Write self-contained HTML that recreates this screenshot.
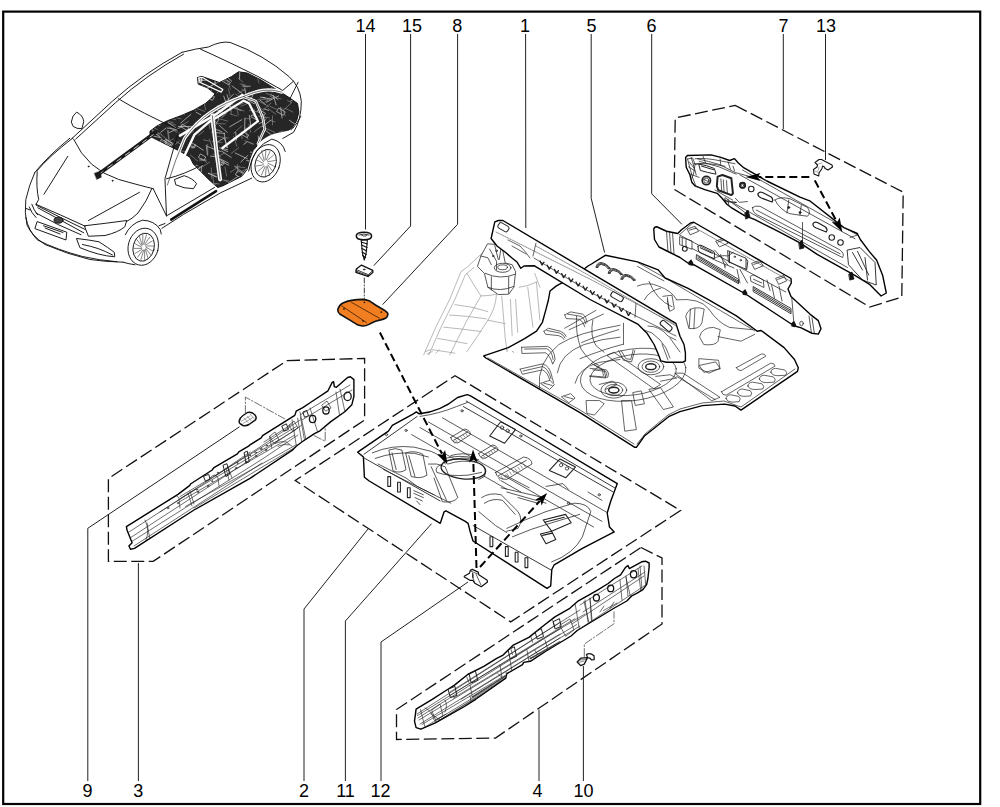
<!DOCTYPE html>
<html><head><meta charset="utf-8"><style>
html,body{margin:0;padding:0;background:#fff;width:1000px;height:807px;overflow:hidden}
svg{position:absolute;left:0;top:0;display:block}
text{font-family:"Liberation Sans",sans-serif;font-size:18px;fill:#000;text-anchor:middle}
.b{fill:none;stroke:#000;stroke-width:1.6}
.l{fill:none;stroke:#222;stroke-width:1}
.d{fill:none;stroke:#111;stroke-width:1.3;stroke-dasharray:13 4.5}
.a{fill:none;stroke:#000;stroke-width:2;stroke-dasharray:8 4}
.p{fill:#fff;stroke:#000;stroke-width:1.4;stroke-linejoin:round}
.t{fill:none;stroke:#333;stroke-width:0.7}
.g{fill:none;stroke:#999;stroke-width:0.6}
</style></head><body>
<svg width="1000" height="807" viewBox="0 0 1000 807">
<rect x="3.2" y="11.6" width="977" height="792.4" fill="none" stroke="#000" stroke-width="2.2"/>
<g id="boxes" class="d">
<polygon points="735.2,105.4 903.2,192.2 901.8,297.2 869.6,307 674.2,189.4 675.2,118"/>
<polygon points="287,360.6 364.6,358.4 364.6,420 153.2,561.4 108.4,561.4 108.4,478.5"/>
<polygon points="455,375.7 680.5,510.5 510.7,621.9 295.2,480.5"/>
<polygon points="641,547.5 662,558 662,624 495.5,738 396.5,739.5 396.5,709.5"/>
</g>
<g id="car" fill="none" stroke="#111" stroke-width="0.95" stroke-linejoin="round" stroke-linecap="round">
<g transform="translate(150,60) scale(0.17354)">
<path vector-effect="non-scaling-stroke" fill="#262626" stroke="#111" d="M275,100 L300,95 L400,130 L470,95 L510,68 L560,75 L640,115 L720,165 L800,215 L850,250 L858,300 L845,350 L820,390 L780,420 L730,445 L680,460 L630,480 L595,520 L575,570 L560,630 L530,670 L480,695 L420,725 L390,735 L340,690 L290,640 L250,600 L230,560 L180,530 L100,490 L40,460 L0,440 L0,410 L40,380 L100,350 L180,320 L250,290 L320,250 L360,215 L375,195 L330,160 L280,140 Z"/>
<defs><clipPath id="cdark"><path d="M275,100 L300,95 L400,130 L470,95 L510,68 L560,75 L640,115 L720,165 L800,215 L850,250 L858,300 L845,350 L820,390 L780,420 L730,445 L680,460 L630,480 L595,520 L575,570 L560,630 L530,670 L480,695 L420,725 L390,735 L340,690 L290,640 L250,600 L230,560 L180,530 L100,490 L40,460 L0,440 L0,410 L40,380 L100,350 L180,320 L250,290 L320,250 L360,215 L375,195 L330,160 L280,140 Z"/></clipPath></defs>
<g clip-path="url(#cdark)" fill="none" stroke="#cfcfcf" stroke-width="0.7" vector-effect="non-scaling-stroke">
<path vector-effect="non-scaling-stroke" d="M278,163 L335,183 M314,99 L352,61 M60,122 L122,122 M815,489 L858,516 M840,92 L866,70 M101,270 L146,227 M162,126 L217,160 M427,422 L443,505 M311,229 L346,208 M494,417 L498,461 M843,140 L890,142 M803,347 L853,383 M753,273 L761,335 M392,631 L405,698 M52,537 L102,541 M575,75 L639,83 M425,208 L438,247 M336,653 L383,672 M239,153 L280,167 M357,304 L390,316 M152,218 L206,161 M157,252 L196,222 M487,708 L558,748 M819,523 L869,530 M414,332 L441,305 M140,291 L197,313 M461,705 L498,719 M324,491 L331,547 M99,392 L144,399 M124,570 L137,639 M444,200 L463,257 M23,419 L58,443 M315,174 L378,131 M284,212 L353,175 M636,214 L663,217 M24,250 L43,312 M296,610 L296,659 M190,214 L234,179 M847,475 L906,508 M688,118 L746,166 M645,385 L698,346 M75,703 L147,715 M73,168 L117,123 M400,506 L447,517 M472,149 L530,192 M88,570 L154,521 M710,204 L727,259 M657,282 L684,290 M636,670 L715,695 M112,163 L171,210 M523,588 L564,550 M624,438 L630,498 M415,588 L454,606 M664,405 L732,455 M381,477 L428,449 M459,385 L529,344 M810,237 L840,221 M105,361 L148,390 M183,266 L210,288 M616,509 L642,487 M402,568 L452,594 M851,626 L929,581 M347,346 L365,416 M17,437 L65,449 M445,261 L524,291 M197,656 L222,667 M670,244 L741,207 M581,703 L666,706 M491,536 L561,569 M158,669 L158,735 M689,117 L747,60 M390,291 L430,305 M111,418 L191,381 M225,183 L233,242 M177,363 L236,313 M855,85 L905,120 M163,383 L241,384 M372,397 L414,413 M185,216 L248,183 M547,335 L545,415 M12,485 L18,513 M572,319 L582,388 M39,186 L47,227 M827,721 L851,806 M266,302 L294,316 M240,506 L261,492 M227,121 L277,132 M258,488 L308,520 M645,507 L715,527 M425,253 L481,197 M767,487 L834,455 M489,613 L539,651 M768,524 L788,505 M548,712 L606,731 M540,486 L560,471 M686,569 L710,585 M634,231 L665,256 M651,217 L700,225 M412,525 L468,561 M67,160 L75,230 M534,151 L577,151 M578,531 L636,536 M400,377 L445,417 M268,118 L323,117 M705,718 L752,737 M788,693 L817,711 M451,708 L506,672 M240,137 L264,217 M418,77 L471,122 M349,554 L394,560 M723,61 L724,94 M797,545 L805,573 M336,652 L383,675 M237,93 L301,116 M546,161 L555,206 M665,594 L739,619 M543,681 L567,667 M630,367 L667,344 M42,690 L80,655 M242,234 L251,274 M416,515 L448,528 M179,676 L232,687 M286,576 L324,577 M78,293 L122,314 M696,197 L738,228 M356,416 L430,423 M428,451 L447,505 M541,647 L601,589 M331,499 L406,527 M751,75 L816,110 M692,718 L742,717 M797,621 L836,636 M94,165 L149,211 M557,580 L632,581 M1,145 L39,170 M110,231 L141,239 M61,417 L92,393 M517,67 L516,110 M272,631 L305,607 M212,713 L225,749"/>
<rect vector-effect="non-scaling-stroke" x="714" y="488" width="22" height="16" transform="rotate(30 714 488)"/><rect vector-effect="non-scaling-stroke" x="368" y="322" width="35" height="25" transform="rotate(30 368 322)"/><rect vector-effect="non-scaling-stroke" x="589" y="317" width="32" height="12" transform="rotate(30 589 317)"/><rect vector-effect="non-scaling-stroke" x="269" y="607" width="22" height="21" transform="rotate(30 269 607)"/><rect vector-effect="non-scaling-stroke" x="200" y="560" width="26" height="20" transform="rotate(30 200 560)"/><rect vector-effect="non-scaling-stroke" x="249" y="634" width="23" height="23" transform="rotate(30 249 634)"/><rect vector-effect="non-scaling-stroke" x="508" y="638" width="35" height="28" transform="rotate(30 508 638)"/><rect vector-effect="non-scaling-stroke" x="92" y="457" width="48" height="13" transform="rotate(30 92 457)"/><rect vector-effect="non-scaling-stroke" x="68" y="458" width="32" height="25" transform="rotate(30 68 458)"/><rect vector-effect="non-scaling-stroke" x="188" y="370" width="41" height="18" transform="rotate(30 188 370)"/><rect vector-effect="non-scaling-stroke" x="135" y="148" width="25" height="15" transform="rotate(30 135 148)"/><rect vector-effect="non-scaling-stroke" x="539" y="415" width="34" height="18" transform="rotate(30 539 415)"/><rect vector-effect="non-scaling-stroke" x="594" y="603" width="50" height="20" transform="rotate(30 594 603)"/><rect vector-effect="non-scaling-stroke" x="132" y="147" width="22" height="20" transform="rotate(30 132 147)"/><rect vector-effect="non-scaling-stroke" x="714" y="437" width="43" height="19" transform="rotate(30 714 437)"/><rect vector-effect="non-scaling-stroke" x="627" y="285" width="44" height="14" transform="rotate(30 627 285)"/><rect vector-effect="non-scaling-stroke" x="579" y="217" width="36" height="20" transform="rotate(30 579 217)"/><rect vector-effect="non-scaling-stroke" x="292" y="542" width="34" height="23" transform="rotate(30 292 542)"/><rect vector-effect="non-scaling-stroke" x="236" y="475" width="32" height="19" transform="rotate(30 236 475)"/><rect vector-effect="non-scaling-stroke" x="398" y="582" width="22" height="16" transform="rotate(30 398 582)"/><rect vector-effect="non-scaling-stroke" x="97" y="463" width="31" height="18" transform="rotate(30 97 463)"/><rect vector-effect="non-scaling-stroke" x="765" y="126" width="42" height="24" transform="rotate(30 765 126)"/><rect vector-effect="non-scaling-stroke" x="743" y="278" width="42" height="23" transform="rotate(30 743 278)"/><rect vector-effect="non-scaling-stroke" x="654" y="668" width="22" height="27" transform="rotate(30 654 668)"/><rect vector-effect="non-scaling-stroke" x="130" y="529" width="34" height="26" transform="rotate(30 130 529)"/><rect vector-effect="non-scaling-stroke" x="642" y="648" width="44" height="14" transform="rotate(30 642 648)"/><rect vector-effect="non-scaling-stroke" x="422" y="105" width="48" height="17" transform="rotate(30 422 105)"/><rect vector-effect="non-scaling-stroke" x="569" y="191" width="27" height="28" transform="rotate(30 569 191)"/><rect vector-effect="non-scaling-stroke" x="396" y="570" width="38" height="21" transform="rotate(30 396 570)"/><rect vector-effect="non-scaling-stroke" x="344" y="196" width="32" height="24" transform="rotate(30 344 196)"/>
<path vector-effect="non-scaling-stroke" stroke="#999" stroke-width="0.6" d="M389,441 L451,450 M163,607 L221,620 M81,266 L136,299 M546,465 L595,483 M529,167 L548,181 M31,658 L60,680 M508,193 L546,169 M570,371 L580,417 M801,117 L809,147 M249,108 L304,137 M332,711 L393,738 M45,315 L93,322 M171,519 L183,553 M829,575 L881,596 M9,376 L57,378 M385,190 L416,166 M340,733 L402,762 M691,267 L727,283 M735,496 L761,506 M380,67 L381,106 M64,202 L91,174 M535,147 L561,155 M332,487 L333,547 M215,189 L248,169 M415,113 L435,121 M828,222 L889,227 M513,260 L575,230 M109,386 L168,414 M175,71 L182,103 M40,252 L59,233 M387,285 L443,249 M408,303 L408,324 M547,388 L564,456 M65,431 L109,467 M605,599 L618,652 M775,652 L795,660 M430,70 L450,72 M62,122 L110,164 M626,324 L687,333 M72,570 L94,581 M19,711 L63,736 M792,234 L816,246 M526,413 L531,454 M767,282 L779,322 M693,682 L732,652 M272,153 L337,160 M35,104 L36,129 M405,689 L451,695 M578,547 L639,553 M239,473 L244,508 M681,73 L704,55 M662,241 L723,208 M99,134 L99,188 M171,383 L221,354 M460,85 L488,61 M600,414 L647,378 M779,119 L822,120 M538,679 L590,689 M432,617 L442,669 M176,551 L236,577 M843,725 L858,778 M13,403 L55,426 M661,391 L719,417 M369,84 L375,149 M405,740 L447,755 M816,118 L855,90 M715,442 L766,407 M482,272 L541,294 M524,267 L566,248 M493,197 L536,222 M24,719 L92,732 M105,123 L138,90 M356,711 L399,714 M109,355 L134,360 M361,80 L380,136 M20,192 L43,167 M622,226 L679,227 M106,407 L110,462 M756,76 L804,91 M463,647 L515,612 M526,643 L572,620 M299,183 L299,213 M669,192 L699,204 M625,236 L684,268 M467,539 L510,506 M15,197 L16,265 M99,404 L109,457 M163,108 L217,127 M527,675 L557,676 M175,631 L175,656 M53,707 L78,707 M336,350 L346,399 M11,537 L43,508 M636,336 L657,322 M681,280 L726,313 M740,488 L769,494 M503,292 L509,317 M639,169 L675,170 M463,312 L502,323 M621,108 L628,132 M764,734 L825,761 M573,290 L619,299 M335,740 L385,711 M843,76 L870,95 M345,94 L363,84 M222,247 L229,292 M832,446 L882,479 M66,466 L125,497 M332,720 L381,729 M369,396 L378,446 M314,254 L320,288 M616,261 L656,290 M544,338 L580,338 M342,456 L364,517 M369,385 L387,367 M697,678 L752,654 M519,138 L549,143 M45,419 L69,431 M359,469 L415,476 M701,153 L704,185 M98,667 L111,716 M624,535 L672,505 M163,229 L183,220 M52,244 L74,244 M191,249 L213,267 M202,727 L232,732 M296,566 L329,592 M707,630 L753,596 M336,162 L395,126 M280,433 L311,410 M83,655 L119,677 M488,614 L547,620 M65,205 L102,230 M657,283 L697,248 M281,676 L286,725 M790,699 L802,758 M262,276 L315,296 M444,117 L463,168 M503,601 L506,648 M719,443 L750,413 M735,612 L774,585 M488,717 L535,717 M678,117 L701,128 M270,78 L313,35 M363,544 L407,557 M658,328 L660,365 M118,392 L172,429 M353,622 L355,682 M717,664 L765,692 M690,347 L720,357 M140,492 L170,467 M455,246 L504,274 M261,166 L313,141 M15,387 L42,400 M309,460 L340,467 M159,251 L219,222 M539,701 L581,714 M346,710 L373,725 M43,704 L99,726 M666,596 L692,613 M9,381 L16,413 M362,655 L399,656 M223,651 L282,614 M229,424 L253,408 M176,683 L197,672 M232,547 L275,582 M71,569 L82,596 M166,524 L213,527 M452,167 L462,206 M478,738 L527,763 M91,328 L148,344 M105,363 L147,374 M252,137 L301,176 M619,673 L648,648 M464,263 L468,310 M75,188 L110,198 M813,443 L820,481 M88,483 L135,454 M155,334 L179,339 M195,167 L246,195 M294,620 L344,589 M706,322 L706,374 M625,477 L624,536 M568,474 L595,486 M264,360 L300,362 M252,130 L288,99 M257,219 L282,203 M803,739 L821,727 M567,588 L604,556 M600,284 L616,346 M389,556 L431,536 M482,441 L500,496 M771,288 L816,245 M248,670 L282,651 M143,466 L178,486 M673,692 L715,658 M634,320 L672,335 M28,419 L53,434 M447,239 L467,295 M621,596 L667,613 M404,340 L447,352 M855,630 L880,638 M99,698 L105,740 M778,278 L824,300 M373,316 L375,351 M510,107 L536,127 M751,721 L796,733 M206,268 L266,290 M859,557 L861,598 M693,211 L756,224 M85,599 L123,629 M390,261 L400,288 M379,366 L434,368 M198,268 L232,280 M429,695 L457,705 M739,531 L796,555 M305,381 L351,352 M481,423 L529,380 M43,132 L43,166 M362,658 L368,724"/>
<path vector-effect="non-scaling-stroke" stroke="#fff" stroke-width="1.2" d="M280,105 L300,100 L420,170 L410,185 L290,130 Z"/>
<ellipse vector-effect="non-scaling-stroke" stroke="#fff" cx="287" cy="115" rx="12" ry="16"/>
</g>

</g>
<path d="M290,98.6 L298.1,82.3 M281.8,138.1 Q294,130 300.9,116.3" fill="none" stroke="#111" stroke-width="0.9"/>
<g id="carwhite" fill="none" stroke-linecap="round" stroke-linejoin="round">
<path d="M167.4,185 Q175,160 184.7,138.1 Q196,122 210.7,112.1 Q226,102 243.7,96.4 Q253,92 262.8,90.4 Q272,89 281.9,92.1" stroke="#fff" stroke-width="3.2"/>
<path d="M180,135.7 L202.3,122.3 L215.7,114.5 L242.4,95" stroke="#fff" stroke-width="2.6"/>
<path d="M212.3,115.6 L216.8,154.7 L220.1,179.2" stroke="#fff" stroke-width="4"/>
<path d="M184.5,155.8 L194.5,134.6 L210.1,121.2 L217.9,116.8" stroke="#fff" stroke-width="2.4"/>
<path d="M217.9,116.8 L243.5,100.6 L249.1,103.4 L258,121.2 L222.4,148" stroke="#fff" stroke-width="2.2"/>
<path d="M243.5,96.7 L255.8,101.1 L262.5,116.8 L264.7,129 L258,143.5" stroke="#fff" stroke-width="2.6"/>
<path d="M277.7,91.1 L294,78.2" stroke="#fff" stroke-width="1.5"/>
<g stroke="#111" stroke-width="0.6">
<path d="M167.4,185 Q175,160 184.7,138.1 Q196,122 210.7,112.1 Q226,102 243.7,96.4 Q253,92 262.8,90.4 Q272,89 281.9,92.1"/>
<path d="M212.3,115.6 L216.8,154.7 L220.1,179.2"/>
<path d="M243.5,96.7 L255.8,101.1 L262.5,116.8 L264.7,129 L258,143.5"/>
</g>
<path d="M246.9,179.2 L258,143.5 Q268,134 280,132.4 L300,128 L300,180 Z" fill="#fff" stroke="none"/>
</g>
<g transform="translate(10,30) scale(0.30992)">
<path vector-effect="non-scaling-stroke" d="M200,350 L330,230 Q430,140 555,72 M212,352 L340,235 Q440,145 560,78"/>
<path vector-effect="non-scaling-stroke" d="M555,72 Q600,60 640,55 Q680,35 710,40 Q820,80 900,150 Q935,180 940,230 Q940,290 915,330 L880,350"/>
<path vector-effect="non-scaling-stroke" d="M615,62 Q700,100 800,150 L880,195 L915,165"/>
<ellipse vector-effect="non-scaling-stroke" cx="825" cy="430" rx="45" ry="62" transform="rotate(20 825 430)"/>
<ellipse vector-effect="non-scaling-stroke" cx="825" cy="430" rx="33" ry="46" transform="rotate(20 825 430)"/>
<path vector-effect="non-scaling-stroke" d="M770,455 Q785,375 845,352 Q880,360 888,392"/>
<path vector-effect="non-scaling-stroke" d="M780,478 L680,525 L560,595 L490,640"/>
<path d="M520,612 L665,520" stroke="#111" stroke-width="8"/>
<path d="M282,468 L470,330" stroke="#1a1a1a" stroke-width="12"/>
<path d="M290,463 L300,456 M315,445 L330,434 M345,423 L358,414 M372,404 L386,394 M400,383 L414,373 M428,363 L440,354 M452,345 L462,338" stroke="#ddd" stroke-width="3"/>
<path d="M272,462 L292,455 L295,475 L280,482 Z" fill="#1a1a1a"/>
<path vector-effect="non-scaling-stroke" d="M205,352 Q250,450 350,482 Q420,502 462,512"/>
<path vector-effect="non-scaling-stroke" d="M350,222 Q420,265 545,322"/>
<path vector-effect="non-scaling-stroke" d="M545,322 L500,480 L505,600 M462,512 L505,600"/>
<path vector-effect="non-scaling-stroke" d="M505,480 Q560,468 625,432 M508,598 L660,508"/>
<path vector-effect="non-scaling-stroke" d="M532,482 L562,470 Q592,480 602,496 L592,512 Q560,512 536,500 Z"/>
<path vector-effect="non-scaling-stroke" d="M198,296 Q200,275 215,265 Q235,275 238,295 L232,318 Q215,320 205,312 Z"/>
<path vector-effect="non-scaling-stroke" d="M833,430 L855,441 M832,435 L849,458 M830,439 L838,470 M827,441 L824,474 M823,441 L811,469 M820,439 L800,456 M818,435 L794,439 M817,430 L795,419 M818,425 L801,402 M820,421 L812,390 M823,419 L826,386 M827,419 L839,391 M830,421 L850,404 M832,425 L856,421" stroke="#333" stroke-width="0.6"/>
</g>
<g transform="translate(15,150) scale(0.15)">
<path vector-effect="non-scaling-stroke" d="M385,-80 Q230,40 145,140 M365,-78 Q215,45 132,150"/>
<path vector-effect="non-scaling-stroke" d="M132,150 Q95,230 72,330 Q62,420 80,500 Q110,570 200,630 Q350,695 500,730 Q600,745 720,748"/>
<path vector-effect="non-scaling-stroke" d="M148,145 Q140,250 158,330 L140,362 M352,42 L193,295 M830,282 L490,470"/>
<path vector-effect="non-scaling-stroke" d="M140,362 Q300,430 468,508 M912,258 Q880,340 820,420 Q780,460 742,478"/>
<path vector-effect="non-scaling-stroke" d="M465,505 Q600,490 745,470 L732,512 Q690,548 600,570 L492,575 Z"/>
<path vector-effect="non-scaling-stroke" d="M142,368 Q300,450 468,530 M152,385 Q300,465 458,552 M140,420 Q280,500 440,565"/>
<ellipse vector-effect="non-scaling-stroke" cx="290" cy="468" rx="30" ry="20" fill="#444"/>
<path vector-effect="non-scaling-stroke" d="M95,380 Q110,420 140,450 M112,362 Q125,400 150,432 M100,400 L75,390"/>
<path vector-effect="non-scaling-stroke" d="M150,478 L345,548 L340,600 L135,525 Z M190,505 L320,550 M200,520 L300,560"/>
<path vector-effect="non-scaling-stroke" d="M412,590 Q500,600 560,612 Q620,650 662,682 L665,712 Q560,705 435,652 Z M450,630 Q560,650 650,700"/>
<path vector-effect="non-scaling-stroke" d="M72,450 Q90,540 150,600 Q280,665 450,710 Q560,735 680,745"/>
<ellipse vector-effect="non-scaling-stroke" cx="855" cy="645" rx="100" ry="125" transform="rotate(15 855 645)"/>
<ellipse vector-effect="non-scaling-stroke" cx="858" cy="648" rx="70" ry="95" transform="rotate(15 858 648)"/>
<path vector-effect="non-scaling-stroke" d="M873,648 L920,674 M872,656 L908,704 M869,662 L888,725 M864,667 L864,735 M858,668 L839,731 M852,667 L817,715 M847,662 L801,689 M844,656 L794,656 M843,648 L796,622 M844,640 L808,592 M847,634 L828,571 M852,629 L852,561 M858,628 L877,565 M864,629 L899,581 M869,634 L915,607 M872,640 L922,640" stroke="#333" stroke-width="0.6"/>
<path vector-effect="non-scaling-stroke" d="M735,565 Q770,490 850,468 Q930,470 968,530 L975,560 M960,505 L1000,490 M720,748 Q760,760 800,765"/>
<circle vector-effect="non-scaling-stroke" cx="490" cy="110" r="3"/><circle vector-effect="non-scaling-stroke" cx="650" cy="205" r="3"/>
</g>
</g>
<g id="part1" stroke-linejoin="round" stroke-linecap="round">
<!-- phantom wheel arch -->
<g fill="none" stroke="#8a8a8a" stroke-width="0.6" stroke-linejoin="round"><g transform="translate(415,230) scale(0.17348)">
<path vector-effect="non-scaling-stroke" d="M50,720 L120,560 L200,400 L265,240 L300,215 L380,140 L395,128 M80,720 L150,560 L230,400 L290,258 L340,215"/>
<path vector-effect="non-scaling-stroke" d="M230,430 Q330,440 420,470 M200,490 Q300,495 410,512 M165,560 Q270,570 380,585 M130,625 Q220,640 300,655 M100,690 Q170,700 230,710"/>
<path vector-effect="non-scaling-stroke" d="M300,250 Q340,320 380,380 Q430,380 470,370 M470,370 Q465,450 420,520 Q370,600 300,700 M380,380 Q340,450 300,520 Q250,620 200,720 M420,520 L520,540"/>
<path vector-effect="non-scaling-stroke" d="M500,380 L520,620 L530,700 M550,400 L560,610 M580,400 L592,590 M650,330 L680,560 M700,300 L720,520 M690,250 L720,330 M600,330 L650,320 L700,300"/>
<path vector-effect="non-scaling-stroke" d="M60,700 L90,690 M70,715 L100,700 M120,710 L140,690"/>
</g></g>
<defs><clipPath id="cfloor"><path d="M483.7,355.9 L508.2,347.6 L524.6,338.6 L536.5,331.2 L542.4,322.3 L546.1,308.9 L548.4,300 L550,291 L556.4,285.9 L575,276 L588,266 L591.5,264 L605.3,255.3 L637.5,261.9 L658.2,269.9 L665.1,278 L688.1,288.3 L708.8,299.8 L736.4,315.9 L757.3,331.2 L761.1,330.5 L784.1,347.6 L794.5,359.5 L798.3,367.7 L797.5,371.4 L741,410.1 L735,406 L724.6,404.1 L702.3,405.6 L680,411.6 L668.6,416.7 L644.4,436 L636.4,447.3 L634.8,447.3 L580,412.6 L485.9,358 Z"/></clipPath></defs>
<!-- floor pan -->
<path class="p" d="M483.7,355.9 L508.2,347.6 L524.6,338.6 L536.5,331.2 L542.4,322.3 L546.1,308.9 L548.4,300 L550,291 L556.4,285.9 L575,276 L588,266 L591.5,264 L605.3,255.3 L637.5,261.9 L658.2,269.9 L665.1,278 L688.1,288.3 L708.8,299.8 L736.4,315.9 L757.3,331.2 L761.1,330.5 L784.1,347.6 L794.5,359.5 L798.3,367.7 L797.5,371.4 L741,410.1 L735,406 L724.6,404.1 L702.3,405.6 L680,411.6 L668.6,416.7 L644.4,436 L636.4,447.3 L634.8,447.3 L580,412.6 L485.9,358 Z"/>
<g fill="none" stroke="#222" stroke-width="0.7" stroke-linejoin="round" clip-path="url(#cfloor)">
<path d="M488,358 L580,410 L634,444 M637,444 L645,434 L668,415 L680,409 L702,403 L724,401 L741,407 L795,369"/>
<g transform="translate(480,300) scale(0.14862)">
<path vector-effect="non-scaling-stroke" d="M280,318 L455,312 Q500,330 505,400 L490,430 M280,318 L282,360 L440,355 Q470,370 488,428 M300,330 L450,328 Q485,345 492,400"/>
<path vector-effect="non-scaling-stroke" d="M270,465 L420,430 Q470,440 485,520 L495,555 M270,465 L285,500 L420,470 Q455,485 470,540 M290,478 L420,448 Q460,460 478,530"/>
<path vector-effect="non-scaling-stroke" d="M430,210 L460,190 L540,210 Q575,225 580,245 M430,210 L440,230 L530,240 Q560,250 565,265 M450,205 L535,222 Q565,235 572,255"/>
<path vector-effect="non-scaling-stroke" d="M570,100 L610,80 L690,95 Q715,110 720,150 M570,100 L580,125 L670,130 Q700,150 705,180 M590,95 L680,110 Q705,125 712,160"/>
<path vector-effect="non-scaling-stroke" d="M410,560 L470,540 L500,570 L470,600 Z M430,560 L485,575"/>
<path vector-effect="non-scaling-stroke" d="M550,650 L610,630 L640,660 L600,690 Z M570,650 L625,665"/>
<path vector-effect="non-scaling-stroke" d="M740,460 L850,470 Q875,490 860,520 L740,510 M760,470 L845,480 Q860,495 850,510"/>
<path vector-effect="non-scaling-stroke" d="M400,600 Q380,420 530,300 Q650,220 942,170 M520,490 Q540,360 700,300 Q820,260 942,250 M640,560 Q660,460 800,420 L942,400"/>
<path vector-effect="non-scaling-stroke" d="M570,190 L780,70 M600,200 L830,95 M650,110 Q640,220 680,330 Q740,420 800,440"/>
<path vector-effect="non-scaling-stroke" d="M180,330 L182,345 M220,345 L225,352" stroke-width="0.5"/>
</g>
<g transform="translate(580,320) scale(0.1611)">
<path vector-effect="non-scaling-stroke" d="M170,220 L210,200 L500,400 L460,425 Z"/>
<ellipse vector-effect="non-scaling-stroke" cx="440" cy="290" rx="32" ry="18" stroke-width="1.4"/><ellipse vector-effect="non-scaling-stroke" cx="440" cy="290" rx="55" ry="35"/><ellipse vector-effect="non-scaling-stroke" cx="440" cy="290" rx="80" ry="50"/>
<ellipse vector-effect="non-scaling-stroke" cx="210" cy="435" rx="32" ry="18" stroke-width="1.4"/><ellipse vector-effect="non-scaling-stroke" cx="210" cy="435" rx="55" ry="35"/><ellipse vector-effect="non-scaling-stroke" cx="210" cy="435" rx="80" ry="50"/>
<ellipse vector-effect="non-scaling-stroke" cx="330" cy="340" rx="330" ry="160" transform="rotate(-8 330 340)"/>
<ellipse vector-effect="non-scaling-stroke" cx="330" cy="340" rx="270" ry="125" transform="rotate(-8 330 340)"/>
<path vector-effect="non-scaling-stroke" d="M240,190 L270,250 L320,260 L340,190 M255,190 L285,240 L315,245 L330,185"/>
<path vector-effect="non-scaling-stroke" d="M70,270 L150,310 L160,360 L60,350 M90,280 L140,310 L145,345"/>
<path vector-effect="non-scaling-stroke" d="M120,400 L200,380 L230,400 L160,430 M470,350 L560,340 L600,360 L500,380"/>
<path vector-effect="non-scaling-stroke" d="M330,450 L380,440 L400,520 L345,530 Z M40,500 L120,500 L150,520 L90,590 L45,580 Z M260,500 L320,500 L350,680 L280,690 Z M430,430 L500,420 L580,540 L520,555 Z M590,330 L640,330 L869,480 L820,500 Z M600,350 L840,495"/>
<path vector-effect="non-scaling-stroke" d="M740,240 L860,250 L869,300 L800,330 L740,300 Z"/>
<path vector-effect="non-scaling-stroke" d="M10,140 Q100,100 240,60 M0,240 Q150,180 270,150 M270,20 L270,150 M80,0 Q60,100 100,160 L150,200"/>
</g>
<g transform="translate(580,240) scale(0.23)">
<path vector-effect="non-scaling-stroke" d="M 70,118 Q 72,99 91,98 Q 118,102 131,123 M 77,119 Q 80,107 92,106 Q 113,109 123,125 M 70,118 L 77,119 M 131,123 L 123,125 M 73,119 Q 76,103 92,102 Q 116,105 127,123 M 123,144 Q 125,125 144,124 Q 171,128 184,149 M 130,145 Q 133,133 145,132 Q 166,135 177,151 M 123,144 L 130,145 M 184,149 L 177,151 M 127,145 Q 129,129 145,128 Q 169,131 180,150 M 178,170 Q 180,150 200,150 Q 227,153 240,174 M 186,170 Q 189,158 201,157 Q 222,160 232,176 M 178,170 L 186,170 M 240,174 L 232,176 M 182,170 Q 184,154 200,153 Q 224,157 236,175" stroke-width="0.9"/>
<path vector-effect="non-scaling-stroke" d="M255,100 L370,165 L760,395 M250,115 L365,178"/>
<path vector-effect="non-scaling-stroke" d="M680,555 L790,495 Q805,495 808,505 L700,568 Q685,568 680,555 Z M615,660 L830,535 Q845,535 848,548 L635,675 Q618,675 615,660 Z"/>
<path vector-effect="non-scaling-stroke" d="M830,575 Q830,560 850,558 L890,565 Q905,575 895,588 L860,590 Q835,590 830,575 Z M780,605 Q780,590 800,588 L840,595 Q855,605 845,618 L810,620 Q785,620 780,605 Z M730,635 Q730,620 750,618 L790,625 Q805,635 795,648 L760,650 Q735,650 730,635 Z M685,665 Q685,650 705,648 L740,655 Q752,665 742,678 L710,680 Q690,680 685,665 Z M635,690 Q635,675 655,673 L690,680 Q702,690 692,703 L660,705 Q640,705 635,690 Z"/>
<path vector-effect="non-scaling-stroke" d="M460,330 Q470,290 520,295 L540,300 L530,360 Q520,390 475,385 Z M480,300 L475,380 M500,298 L495,385"/>
<path vector-effect="non-scaling-stroke" d="M520,420 Q530,380 580,380 L610,390 L600,440 Q590,460 540,455 Z"/>
<path vector-effect="non-scaling-stroke" d="M360,245 L400,240 L410,300 L390,310 L380,260 M380,250 L385,300"/>
<path vector-effect="non-scaling-stroke" d="M250,200 Q300,180 340,200 Q400,220 420,260 M280,260 Q300,220 350,210 M300,180 Q330,260 400,290 M420,260 Q520,250 560,300 Q600,360 650,380 L750,390 M600,420 Q650,430 700,440 L760,410"/>
<path vector-effect="non-scaling-stroke" d="M520,545 L590,530 L610,560 L540,575 Z"/>
</g>
</g>
<!-- crossmember -->
<g transform="translate(415,230) scale(0.17348)" fill="none" stroke="#222" stroke-width="0.75" stroke-linejoin="round">
<path vector-effect="non-scaling-stroke" fill="#fff" d="M420,80 L500,85 L510,140 L520,190 L560,200 L580,240 L570,330 L540,370 L480,372 L420,330 L400,250 L360,210 L380,150 Z"/>
<ellipse vector-effect="non-scaling-stroke" cx="505" cy="218" rx="48" ry="26"/><ellipse vector-effect="non-scaling-stroke" cx="505" cy="215" rx="28" ry="14"/>
<path vector-effect="non-scaling-stroke" d="M405,250 Q490,290 578,255 M420,330 Q490,360 570,325 M430,110 L470,180 L470,230 M460,90 L480,170 M440,270 L440,345 M540,270 L540,365 M380,150 L420,160 L440,200 M500,85 L485,170"/>
<circle vector-effect="non-scaling-stroke" cx="470" cy="120" r="5"/><circle vector-effect="non-scaling-stroke" cx="450" cy="150" r="4"/>
</g>
<path class="p" d="M494.8,221.8 L498.5,220.5 L502.9,220.5 L590,272.3 L675.9,323.4 L680,336.2 L684,344.5 L685.4,352.7 L685.4,360.9 L682.7,362.2 L666.3,362.2 L660.9,360.9 L658.2,354.1 L654.1,344.5 L647.3,333.6 L637.7,324.1 L590,299.5 L534.5,265.8 L524,266 L520.8,268.3 L517,262 L512,258 L505,252 L497,246 L491.1,238.5 Z"/>
<g fill="none" stroke="#222" stroke-width="0.7">
<path d="M496,232 L590,279.1 L674.5,324 M536,246 L590,276 L676,326" stroke="#555" stroke-dasharray="1 1"/>
<path d="M536,243 L533,256 M636,303.6 L635,317.3 M534,258 L590,292 L636,316 L676,336"/>
<path d="M540.0,261.0 L542.0,265.0 L544.0,262.2 M547.2,265.2 L549.2,269.2 L551.2,266.4 M554.4,269.4 L556.4,273.4 L558.4,270.6 M561.6,273.6 L563.6,277.6 L565.6,274.8 M568.8,277.8 L570.8,281.8 L572.8,279.0 M576.0,282.0 L578.0,286.0 L580.0,283.2 M583.2,286.2 L585.2,290.2 L587.2,287.4 M590.4,290.5 L592.4,294.5 L594.4,291.7 M597.6,294.7 L599.6,298.7 L601.6,295.9 M604.8,298.9 L606.8,302.9 L608.8,300.1 M612.0,303.1 L614.0,307.1 L616.0,304.3 M619.2,307.3 L621.2,311.3 L623.2,308.5 M626.4,311.5 L628.4,315.5 L630.4,312.7" stroke-width="1.35"/>
<rect x="610.4" y="294" width="13" height="5.5" rx="2" transform="rotate(30 617 297)" stroke-width="1.1"/>
<rect x="659.5" y="323" width="13" height="5.5" rx="2" transform="rotate(40 666 326)" stroke-width="1.1"/>
<rect x="498" y="224" width="11" height="6" rx="2" transform="rotate(30 503 227)" stroke-width="1"/>
<path d="M644,330 L652,333 L660,340 L666,348 L670,358 M648,326 Q660,326 668,336 L676,340 M670,338 L680,352 M662,344 L668,360"/>
<path d="M508,240 L520,246 Q526,252 530,258 M512,246 L526,254"/>
</g>
</g>
<g id="part7" stroke-linejoin="round" stroke-linecap="round">
<path class="p" d="M685.6,157.4 L687.4,155.5 L711,154.9 L720.9,157.4 L729.6,160.5 L734.5,158.6 L738.3,163 L743.2,167.3 L751.9,172.3 L766.8,181 L800,197.1 L809.7,200.8 L843.9,227.6 L857.3,233.5 L860.3,239.5 L869.2,251.4 L876.7,260.3 L882.6,275.2 L886.3,293 L881.1,296 L869.2,284.1 L854.4,275.2 L817.2,254.4 L800,242.9 L779.2,231.8 L766.8,225.6 L754.4,219.4 L744.5,215.7 L732.1,208.2 L727.1,204.5 L722.1,198.3 L717.2,193.3 L704.8,189.6 L694.9,185.9 L691.8,182.2 L689.9,174.8 L686.2,167.3 Z"/>
<defs><clipPath id="cp7"><path d="M685.6,157.4 L687.4,155.5 L711,154.9 L720.9,157.4 L729.6,160.5 L734.5,158.6 L738.3,163 L743.2,167.3 L751.9,172.3 L766.8,181 L800,197.1 L809.7,200.8 L843.9,227.6 L857.3,233.5 L860.3,239.5 L869.2,251.4 L876.7,260.3 L882.6,275.2 L886.3,293 L881.1,296 L869.2,284.1 L854.4,275.2 L817.2,254.4 L800,242.9 L779.2,231.8 L766.8,225.6 L754.4,219.4 L744.5,215.7 L732.1,208.2 L727.1,204.5 L722.1,198.3 L717.2,193.3 L704.8,189.6 L694.9,185.9 L691.8,182.2 L689.9,174.8 L686.2,167.3 Z"/></clipPath></defs>
<g clip-path="url(#cp7)"><g transform="translate(650,140) scale(0.25)" fill="none" stroke="#222" stroke-width="0.75">
<path vector-effect="non-scaling-stroke" d="M150,75 L170,150 L190,200 M165,70 L185,140 M180,75 Q220,70 290,85 L340,95 M175,95 Q230,90 300,105"/>
<circle vector-effect="non-scaling-stroke" cx="370" cy="180" r="11" stroke-width="1.1"/><circle vector-effect="non-scaling-stroke" cx="405" cy="196" r="11" stroke-width="1.1"/>
<path vector-effect="non-scaling-stroke" d="M432,215 Q438,205 450,210 L485,228 Q495,238 488,248 L445,232 Q430,225 432,215 Z" stroke-width="1.3"/>
<path vector-effect="non-scaling-stroke" d="M500,240 Q520,225 560,235 L630,270 Q645,290 630,305 L560,295 Q520,280 500,240 Z M555,240 L548,292 M605,262 L600,300"/>
<circle vector-effect="non-scaling-stroke" cx="555" cy="270" r="4" fill="#222"/><circle vector-effect="non-scaling-stroke" cx="600" cy="290" r="4" fill="#222"/>
<path vector-effect="non-scaling-stroke" d="M652,335 Q658,325 670,330 L702,348 Q712,358 705,368 L665,352 Q650,345 652,335 Z" stroke-width="1.3"/>
<circle vector-effect="non-scaling-stroke" cx="727" cy="390" r="11" stroke-width="1.1"/><circle vector-effect="non-scaling-stroke" cx="762" cy="410" r="11" stroke-width="1.1"/>
<path vector-effect="non-scaling-stroke" d="M790,440 L840,430 L900,490 L905,580 L850,560 L795,500 Z M810,450 L850,520 M830,445 L875,540 M860,470 L870,560" stroke-width="0.9"/>
<path vector-effect="non-scaling-stroke" d="M410,270 Q420,262 440,265 L760,440 Q780,455 770,470 L430,300 Q410,290 410,270 Z M425,280 L760,455"/>
<path vector-effect="non-scaling-stroke" d="M370,120 L830,380 M360,140 L820,395 M330,250 L790,510 M380,300 L780,530"/>
<path vector-effect="non-scaling-stroke" d="M610,330 L610,430 M300,230 L380,290 M260,200 L330,240"/>
<path vector-effect="non-scaling-stroke" d="M800,390 L830,380 M835,372 L840,360"/>
</g><g transform="translate(683,150) scale(0.08055)" fill="none" stroke="#222" stroke-width="0.75">
<path vector-effect="non-scaling-stroke" d="M140,440 Q350,560 560,640 L660,650 M120,420 L140,460" stroke-width="1.3"/>
<path vector-effect="non-scaling-stroke" d="M200,175 Q300,190 390,230 L410,300 Q300,280 220,255 Z M230,200 L380,245" stroke-width="1"/>
<circle vector-effect="non-scaling-stroke" cx="290" cy="380" r="52" stroke-width="1.6"/><circle vector-effect="non-scaling-stroke" cx="290" cy="380" r="32"/>
<path vector-effect="non-scaling-stroke" d="M250,360 L330,400" />
<path vector-effect="non-scaling-stroke" d="M430,330 L490,310 L600,350 L620,540 L600,560 L440,500 L420,450 Z" stroke-width="2"/>
<path vector-effect="non-scaling-stroke" d="M500,370 L510,520 M540,380 L550,530 M470,360 L480,500"/>
<circle vector-effect="non-scaling-stroke" cx="740" cy="440" r="32" stroke-width="1.6"/><circle vector-effect="non-scaling-stroke" cx="740" cy="440" r="16"/>
<path vector-effect="non-scaling-stroke" d="M180,110 Q320,140 450,180 L650,280 L869,340 M200,140 L450,210 L660,300 M250,80 L280,160 M460,110 L470,190 M560,150 L590,240 M620,200 L640,260"/>
<path vector-effect="non-scaling-stroke" d="M60,110 L120,100 L150,180 L130,300 L110,350 M80,150 L140,230 M70,210 L150,260 M90,300 L200,340 M150,180 L220,170"/>
<path vector-effect="non-scaling-stroke" d="M400,560 L420,640 M520,600 L540,700 M560,610 L570,710 M650,600 L700,650 L800,640"/>
</g>
</g>
<g fill="#111" stroke="#111" stroke-width="0.8">
<path d="M745,213 L748,210 L750,217 L746,219 Z"/>
<path d="M799,243 L802,240 L804,248 L800,249 Z"/>
<path d="M849,274 L852,272 L854,279 L850,280 Z"/>
</g>
</g>
<g id="part6" stroke-linejoin="round" stroke-linecap="round">
<defs><clipPath id="cp6"><path transform="translate(650,220) scale(0.15)" d="M25,62 Q28,45 45,45 L110,75 L185,90 L210,65 L270,20 L292,15 L940,390 L942,420 L920,460 L940,510 L1068,629 L1122,671 L1140,725 L1122,761 L1080,755 L1008,719 L960,705 L640,495 L300,302 L260,292 L200,250 L120,210 L60,180 L30,130 Z"/></clipPath></defs>
<g transform="translate(650,220) scale(0.15)">
<path vector-effect="non-scaling-stroke" class="p" d="M25,62 Q28,45 45,45 L110,75 L185,90 L210,65 L270,20 L292,15 L940,390 L942,420 L920,460 L940,510 L1068,629 L1122,671 L1140,725 L1122,761 L1080,755 L1008,719 L960,705 L640,495 L300,302 L260,292 L200,250 L120,210 L60,180 L30,130 Z"/>
</g>
<g clip-path="url(#cp6)"><g transform="translate(650,220) scale(0.15)" fill="none" stroke="#222" stroke-width="0.75">
<path vector-effect="non-scaling-stroke" d="M300,52 L935,408" stroke="#555" stroke-dasharray="1.2 1"/>
<path vector-effect="non-scaling-stroke" d="M195,98 L905,480 M290,15 L200,95 M110,75 L120,210 M130,80 L140,218 M150,85 L160,225"/>
<path vector-effect="non-scaling-stroke" d="M200,112 L280,140 L280,195 L200,165 Z M215,120 L215,170 M240,130 L240,180"/>
<circle vector-effect="non-scaling-stroke" cx="232" cy="192" r="16" stroke-width="1.1"/>
<path vector-effect="non-scaling-stroke" d="M320,175 Q325,165 340,168 L425,210 Q432,218 430,235 L428,258 L330,215 Q318,205 320,175 Z M335,185 L415,222" stroke-width="1"/>
<path vector-effect="non-scaling-stroke" d="M520,205 L640,255 L652,275 L645,330 L525,280 Z M530,215 L530,285 M640,260 L640,330" stroke-width="0.9"/>
<circle vector-effect="non-scaling-stroke" cx="565" cy="245" r="5"/><circle vector-effect="non-scaling-stroke" cx="605" cy="268" r="5"/>
<path vector-effect="non-scaling-stroke" d="M670,375 Q680,362 700,370 L755,400 L760,450 L675,410 Z M690,395 L745,420"/>
<path vector-effect="non-scaling-stroke" d="M250,60 L300,42 L325,75 L270,98 Z M440,140 L490,122 L520,155 L465,178 Z M680,288 L730,270 L755,305 L700,328 Z M840,388 L890,370 L912,405 L860,428 Z M262,68 L305,55 M452,148 L495,132 M692,296 L735,280 M852,396 L895,380"/>
<path vector-effect="non-scaling-stroke" d="M312,232 L590,395 L590,425 L310,262 Z M320,245 L585,405 M318,255 L588,415" stroke-width="0.9"/>
<path vector-effect="non-scaling-stroke" d="M690,445 L940,590 L940,625 L690,478 Z M695,458 L935,600 M693,468 L937,612" stroke-width="0.9"/>
<path vector-effect="non-scaling-stroke" d="M280,190 L440,270 L560,320 M430,200 L520,300 M600,330 L650,420 M500,300 L500,320 M780,400 L800,470 M810,430 L830,520 M860,440 L880,540 M580,330 L600,420"/>
<path vector-effect="non-scaling-stroke" d="M420,260 Q470,230 520,240 L555,215 M470,230 L500,310"/>
<ellipse vector-effect="non-scaling-stroke" cx="1010" cy="690" rx="12" ry="15"/><path vector-effect="non-scaling-stroke" d="M1060,640 L1075,745 M1080,652 L1095,752 M945,515 L960,700"/>
</g></g>
<g transform="translate(650,220) scale(0.15)" fill="#111">
<path d="M255,280 L275,262 L290,290 L282,305 L258,300 Z M615,478 L635,460 L650,488 L642,503 L618,498 Z M940,690 L960,672 L975,700 L967,715 L943,710 Z"/>
</g>
</g>
<g id="part2" stroke-linejoin="round" stroke-linecap="round">
<defs><clipPath id="cf2"><path d="M357.7,452.2 L388.4,431.1 L392.3,425.3 L413.4,413.8 L416.3,411.9 L419.2,413.8 Q440,412 457.6,397.5 L467.2,394.6 L470.1,395.6 L617.3,483.6 L610.7,501.2 L607.2,513 L609.5,527.1 L614.2,531.9 L582.4,548.3 L554.2,564.8 L551.8,569.5 L550.7,586 L547,588.4 L473,541 L470,531 L468.1,523.3 L465.3,521.4 L446,510.8 L444.1,511.8 L440.3,523.3 L369.2,481 L364.4,477.2 L363.4,457 Z"/></clipPath></defs>
<path class="p" stroke-width="1.6" d="M357.7,452.2 L388.4,431.1 L392.3,425.3 L413.4,413.8 L416.3,411.9 L419.2,413.8 Q440,412 457.6,397.5 L467.2,394.6 L470.1,395.6 L617.3,483.6 L610.7,501.2 L607.2,513 L609.5,527.1 L614.2,531.9 L582.4,548.3 L554.2,564.8 L551.8,569.5 L550.7,586 L547,588.4 L473,541 L470,531 L468.1,523.3 L465.3,521.4 L446,510.8 L444.1,511.8 L440.3,523.3 L369.2,481 L364.4,477.2 L363.4,457 Z"/>
<g fill="none" stroke="#222" stroke-width="0.75" stroke-linejoin="round" clip-path="url(#cf2)">
<g transform="translate(350,380) scale(0.28)">
<path vector-effect="non-scaling-stroke" d="M50,265 L240,130 M46,276 L322,432 M440,520 L720,680 L940,548 M415,75 L945,385 M405,95 L940,400" stroke-width="0.9"/>
<path vector-effect="non-scaling-stroke" d="M250,130 Q320,120 380,95 L420,80"/>
<path vector-effect="non-scaling-stroke" d="M280,150 L900,505 M250,170 L870,525 M220,195 L560,390 M330,135 L930,480"/>
<path vector-effect="non-scaling-stroke" d="M135,345 L145,345 L145,380 L135,380 Z M170,365 L180,365 L180,400 L170,400 Z M205,385 L215,385 L215,420 L205,420 Z M500,560 L510,560 L510,595 L500,595 Z M555,595 L565,595 L565,630 L555,630 Z M590,615 L600,615 L600,650 L590,650 Z M625,635 L635,635 L635,670 L625,670 Z" stroke-width="1.1"/>
<path vector-effect="non-scaling-stroke" d="M228,395 L262,410 M228,405 L262,420 M232,420 L258,432 M238,432 L250,445"/>
<ellipse fill="#fff" vector-effect="non-scaling-stroke" cx="405" cy="318" rx="80" ry="35" transform="rotate(6 405 318)" stroke-width="1.3"/><path vector-effect="non-scaling-stroke" d="M345,290 Q400,270 460,285 M350,300 Q400,282 455,295 M470,300 Q490,320 480,345 L460,355"/>
<path vector-effect="non-scaling-stroke" d="M340,280 Q390,265 450,280 M360,270 Q400,258 440,268 M330,300 Q300,310 310,330 Q350,345 420,340 L470,330"/>
<path vector-effect="non-scaling-stroke" d="M360,205 L410,175 Q430,180 430,195 L385,225 Q362,222 360,205 Z M370,215 L420,185"/>
<path vector-effect="non-scaling-stroke" d="M460,262 L510,232 Q530,237 528,252 L482,280 Q460,278 460,262 Z M470,272 L520,242"/>
<path vector-effect="non-scaling-stroke" d="M520,330 L620,275 Q650,280 650,300 L560,355 Q525,355 520,330 Z M530,342 L630,287 M540,360 L610,400 M555,340 L640,385"/>
<path vector-effect="non-scaling-stroke" d="M538,149 L591,177 L552,226 L499,200 Z M750,282 L805,311 L771,349 L712,323 Z" stroke-width="1.1"/>
<circle vector-effect="non-scaling-stroke" cx="543" cy="170" r="6"/><circle vector-effect="non-scaling-stroke" cx="563" cy="181" r="6"/><circle vector-effect="non-scaling-stroke" cx="754" cy="304" r="6"/><circle vector-effect="non-scaling-stroke" cx="775" cy="316" r="6"/>
<path vector-effect="non-scaling-stroke" d="M80,260 Q150,230 230,240 L290,255 Q330,270 340,300 M90,280 Q160,255 230,262 L280,275"/>
<path vector-effect="non-scaling-stroke" d="M140,250 Q160,240 185,250 L200,320 Q180,335 155,325 Z M150,260 L165,320 M200,260 Q230,250 260,265 L275,340 Q250,355 220,345 Z M210,270 L232,345 M280,300 Q310,295 340,310 L385,420 Q370,440 330,435 L300,350 M290,310 L345,430"/>
<path vector-effect="non-scaling-stroke" d="M100,300 L200,350 L240,380 L360,440 M120,320 L300,410"/>
<path vector-effect="non-scaling-stroke" d="M470,420 Q500,400 540,410 L600,470 Q620,500 600,530 L560,540 M480,440 Q510,420 545,430 L590,480 M460,470 L520,520 L560,545"/>
<path vector-effect="non-scaling-stroke" d="M560,530 Q620,500 700,470 L800,440 Q850,440 860,470 L830,560 Q800,620 720,650 M580,560 Q650,530 720,510 L820,480"/>
<path vector-effect="non-scaling-stroke" d="M690,500 L770,480 L790,510 L720,540 Z M680,550 L720,540 L735,570 L700,585 Z M695,508 L765,490 M688,555 L722,547" stroke-width="1.1"/>
<path vector-effect="non-scaling-stroke" d="M368,218 L374,226 M377,213 L383,221 M386,207 L392,215 M395,202 L401,210 M404,196 L410,204 M413,191 L419,199 M468,275 L474,283 M477,270 L483,278 M486,264 L492,272 M495,259 L501,267 M504,253 L510,261 M513,248 L519,256 M530,350 L536,359 M540,344 L546,354 M550,339 L556,348 M560,334 L566,342 M570,328 L576,337 M580,322 L586,332 M590,317 L596,326 M600,312 L606,320 M610,306 L616,315 M620,300 L626,310" stroke="#444" stroke-width="0.6"/>
<path vector-effect="non-scaling-stroke" d="M540,385 L690,420 M560,400 L700,440 M600,420 L670,440"/>
<path vector-effect="non-scaling-stroke" d="M700,380 L760,370 L780,390 M850,400 L900,430"/>
<circle vector-effect="non-scaling-stroke" cx="400" cy="110" r="4"/><circle vector-effect="non-scaling-stroke" cx="200" cy="180" r="4"/><circle vector-effect="non-scaling-stroke" cx="130" cy="195" r="4"/><circle vector-effect="non-scaling-stroke" cx="610" cy="200" r="4"/><circle vector-effect="non-scaling-stroke" cx="780" cy="440" r="4"/><circle vector-effect="non-scaling-stroke" cx="890" cy="410" r="4"/><circle vector-effect="non-scaling-stroke" cx="830" cy="610" r="4"/><circle vector-effect="non-scaling-stroke" cx="905" cy="600" r="4"/>
</g>
</g>
</g>
<g id="part3" stroke-linejoin="round" stroke-linecap="round">
<defs><clipPath id="cp3"><path d="M126.4,526.7 L152,510.6 L178,494.4 L189.8,485.4 L190.5,484 L212.2,470 L213.6,467.9 L237.4,453.9 L238.8,451.8 L248.6,446.2 L250,444.8 L261.2,437.8 L262.6,435.7 L294.8,415.4 L296.2,411.2 L302.8,407.6 L311.2,402 L328,390.8 L332.2,382.4 L333.6,381.7 L334.3,386.6 L336.4,387.3 L347.6,377.5 L350.4,376.8 L353.9,379.6 L353.9,396.4 L351.8,404.8 L344.8,411.8 L330.8,421.6 L320,430.8 L314.4,433.6 L301.8,442 L296.2,446.2 L292,450.4 L250,478.4 L194,510 L134.5,548.4 L130.5,549.2 L128.9,546 L132.1,542.8 L127,530 Z"/></clipPath><clipPath id="cp4"><path d="M416.1,709.1 L432.2,699.4 L448.3,689 L454.8,684.9 L467.7,674.5 L483.8,666.4 L496.7,658.3 L503.1,655.1 L512.8,645.4 L528.9,637.4 L545,624.5 L554.9,616.9 L569.8,608.3 L578.4,600.8 L589.6,594.6 L598.3,589.7 L608.2,583.5 L614.4,578.5 L620.6,574.8 L625.5,567.4 L628,565.5 L629.3,568.6 L641.7,561.8 L645.4,561.2 L649.1,563 L649.1,567.4 L647.9,578.5 L646.6,584.7 L642.9,589.7 L636.7,593.4 L631.7,595.9 L626.8,601 L614.4,608 L602,615.5 L589.6,623 L577.2,630.5 L571,636 L558.6,643.5 L546.2,651 L530.3,661.3 L523.6,662.4 L522.5,664.7 L506.9,673.6 L505.8,678.1 L475.7,699.3 L464.5,706.5 L435.4,722.8 L420.9,729.2 L416.1,727.6 L414.5,721.2 Z"/></clipPath></defs>
<path class="p" stroke-width="1.5" d="M126.4,526.7 L152,510.6 L178,494.4 L189.8,485.4 L190.5,484 L212.2,470 L213.6,467.9 L237.4,453.9 L238.8,451.8 L248.6,446.2 L250,444.8 L261.2,437.8 L262.6,435.7 L294.8,415.4 L296.2,411.2 L302.8,407.6 L311.2,402 L328,390.8 L332.2,382.4 L333.6,381.7 L334.3,386.6 L336.4,387.3 L347.6,377.5 L350.4,376.8 L353.9,379.6 L353.9,396.4 L351.8,404.8 L344.8,411.8 L330.8,421.6 L320,430.8 L314.4,433.6 L301.8,442 L296.2,446.2 L292,450.4 L250,478.4 L194,510 L134.5,548.4 L130.5,549.2 L128.9,546 L132.1,542.8 L127,530 Z"/>
<g fill="none" stroke="#222" stroke-width="0.65" clip-path="url(#cp3)">
<path d="M129,532 L260,447 L300,420 M130,538 L262,452 L302,425 M131,542 L264,458 L298,435 M134,546 L262,463"/>
<path d="M160,512 L196,489 M215,476 L250,452 M264,442 L292,424"/>
<path d="M300,415 L350,385 M302,420 L352,390 M300,412 L306,440 M310,408 L318,433 M336,392 L340,418 M340,389 L345,412"/>
<path d="M145,520 Q150,530 146,540 M147,523 L150,540 M170,500 Q175,492 179,498 L180,508 M188,493 L192,506 M190,491 L194,504 M210,478 Q215,472 218,478 L219,486 M226,468 L229,480 M228,467 L232,478"/>
<circle cx="168" cy="508" r="0.8"/><circle cx="178" cy="503" r="0.8"/><circle cx="198" cy="492" r="0.8"/><circle cx="208" cy="486" r="0.8"/><circle cx="236" cy="468" r="0.8"/><circle cx="246" cy="462" r="0.8"/><circle cx="256" cy="456" r="0.8"/><circle cx="266" cy="450" r="0.8"/>
<g transform="translate(180,400) scale(0.14)">
<path vector-effect="non-scaling-stroke" d="M0,690 L830,190 M0,725 L820,250 M40,760 L830,320 M100,772 L960,255 M0,705 L825,215"/>
<path vector-effect="non-scaling-stroke" d="M170,545 L205,530 L215,565 L185,580 Z M310,465 L335,455 L355,530 L330,545 Z M460,375 L480,365 L495,440 L475,450 Z M730,185 L760,170 L775,210 L745,222 Z M880,85 L905,75 L918,112 L892,122 Z" stroke-width="1"/>
<path vector-effect="non-scaling-stroke" d="M800,140 L830,320 M840,130 L870,300 M860,120 L890,290 M640,260 L655,340"/>
<path vector-effect="non-scaling-stroke" d="M680,310 Q720,290 760,300 L800,330 M700,330 Q740,310 780,320"/>
<circle vector-effect="non-scaling-stroke" cx="120" cy="640" r="4"/><circle vector-effect="non-scaling-stroke" cx="230" cy="580" r="4"/><circle vector-effect="non-scaling-stroke" cx="270" cy="520" r="4"/><circle vector-effect="non-scaling-stroke" cx="410" cy="450" r="4"/><circle vector-effect="non-scaling-stroke" cx="500" cy="395" r="4"/><circle vector-effect="non-scaling-stroke" cx="540" cy="375" r="6"/><circle vector-effect="non-scaling-stroke" cx="580" cy="350" r="6"/><circle vector-effect="non-scaling-stroke" cx="620" cy="325" r="4"/>
</g>
<path d="M270,436 L275,432 L279,440 L274,443 Z M289,425 L294,421 L298,428 L293,431 Z M322,405 L327,401 L331,408 L326,411 Z"/>
</g>
<g fill="none" stroke="#111" stroke-width="1.3">
<ellipse cx="312.6" cy="419" rx="3.2" ry="3.6"/><ellipse cx="326" cy="410.4" rx="3.2" ry="3.6"/><ellipse cx="347.6" cy="396.4" rx="3.6" ry="4.2"/>
</g>
</g>
<g id="part4" stroke-linejoin="round" stroke-linecap="round">
<path class="p" stroke-width="1.5" d="M416.1,709.1 L432.2,699.4 L448.3,689 L454.8,684.9 L467.7,674.5 L483.8,666.4 L496.7,658.3 L503.1,655.1 L512.8,645.4 L528.9,637.4 L545,624.5 L554.9,616.9 L569.8,608.3 L578.4,600.8 L589.6,594.6 L598.3,589.7 L608.2,583.5 L614.4,578.5 L620.6,574.8 L625.5,567.4 L628,565.5 L629.3,568.6 L641.7,561.8 L645.4,561.2 L649.1,563 L649.1,567.4 L647.9,578.5 L646.6,584.7 L642.9,589.7 L636.7,593.4 L631.7,595.9 L626.8,601 L614.4,608 L602,615.5 L589.6,623 L577.2,630.5 L571,636 L558.6,643.5 L546.2,651 L530.3,661.3 L523.6,662.4 L522.5,664.7 L506.9,673.6 L505.8,678.1 L475.7,699.3 L464.5,706.5 L435.4,722.8 L420.9,729.2 L416.1,727.6 L414.5,721.2 Z"/>
<g fill="none" stroke="#222" stroke-width="0.65" clip-path="url(#cp4)">
<path d="M417,714 L545,632 L580,610 M418,718 L548,636 L585,614 M420,724 L540,650 L580,626 M425,727 L545,654 L575,637 M430,726 L520,670"/>
<path d="M580,605 L642,566 M583,612 L645,572 M620,580 L622,600 M626,576 L628,596 M585,600 L588,622 M590,598 L592,620 M640,566 L642,590 M644,566 L646,588"/>
<path d="M445,700 Q448,705 445,712 M470,685 L472,695 M500,665 L502,678 M510,660 L512,672 M527,650 L529,662 M545,640 L548,650 M600,612 L604,606 M610,608 L614,602"/>
<g transform="translate(380,540) scale(0.3)">
<path vector-effect="non-scaling-stroke" d="M125,585 L650,262 M130,600 L655,282 M140,615 L495,405 M180,612 L500,418 M200,608 L640,322 M640,280 L880,120 M660,300 L885,150"/>
<path vector-effect="non-scaling-stroke" d="M228,497 L250,488 L256,518 L236,525 Z M298,445 L318,436 L326,468 L305,476 Z M428,365 L448,356 L455,388 L435,396 Z M518,305 L538,296 L545,322 L525,330 Z M578,272 L598,262 L604,288 L585,296 Z" stroke-width="1"/>
<path vector-effect="non-scaling-stroke" d="M135,565 L150,625 M150,560 Q175,570 180,600 L190,610 M170,580 L200,600 M185,600 L220,580"/>
<path vector-effect="non-scaling-stroke" d="M650,210 L665,300 M680,205 L700,290 M700,195 L705,270 M820,125 L835,190 M860,95 L870,175 M745,235 L790,210 M760,250 L805,225"/>
<path vector-effect="non-scaling-stroke" d="M300,520 L305,545 M420,440 L425,465 M520,385 L523,405"/>
</g>
<g transform="translate(450,610) scale(0.11156)">
<path vector-effect="non-scaling-stroke" d="M0,735 L986,110 M0,765 L986,170 M30,790 L986,215 M100,800 L986,250"/>
<path vector-effect="non-scaling-stroke" d="M200,780 L500,592 M720,435 L986,285" stroke="#444" stroke-dasharray="1.5 1.2" stroke-width="1.6"/>
<path vector-effect="non-scaling-stroke" d="M150,600 L170,650 M540,330 L560,400 M720,220 L740,290 M920,90 L940,150 M430,570 L460,600 M760,360 L780,390"/>
</g>
<path d="M432,710 L440,704 L443,716 L436,720 Z M560,625 L570,619 L574,630 L566,636 Z"/>
</g>
<g fill="none" stroke="#111" stroke-width="1.3">
<ellipse cx="596.4" cy="597.7" rx="3" ry="3.3"/><ellipse cx="610.7" cy="588.4" rx="3" ry="3.3"/><ellipse cx="633.6" cy="574.2" rx="3.2" ry="3.6"/>
</g>
</g>
<g id="leaders" class="l">
<polyline points="365.5,34 365.5,229.5"/>
<polyline points="410.6,34 410.6,226 373.8,265.6"/>
<polyline points="457.6,34 457.6,224.3 382.6,304.6"/>
<polyline points="525.6,34 525.8,228"/>
<polyline points="591.2,34 591.2,198.3 604.6,252.5"/>
<polyline points="651.7,34 651.7,193.8 681.9,224.3"/>
<polyline points="783.3,34 783.3,129"/>
<polyline points="825.5,34 825.5,160"/>
<polyline points="87.8,781 87.8,528.3 239.5,426.8"/>
<polyline points="138.4,781 138.4,563"/>
<polyline points="304,781 304,609 368,529"/>
<polyline points="345.4,781 345.4,621 431.6,523.6"/>
<polyline points="381,781 381,642 468,582"/>
<polyline points="539,781 539,709.5"/>
<polyline points="583.4,781 583.4,666"/>
</g>
<g id="small2" stroke-linejoin="round" stroke-linecap="round">
<path d="M586.5,654.5 Q590,652.3 594,655.8 L594.2,659.6 L591.5,659.8 Q590,657.5 587.5,657.6 Z" fill="#fff" stroke="#111" stroke-width="1.2"/>
<path d="M577.2,662 L580.8,658.2 L587.5,657.6 L584.2,664.2 L580.6,665.6 Z" fill="#fff" stroke="#111" stroke-width="1.3"/>
<path d="M578.5,662.5 L584,661 M579.8,660 L585.5,659.5" fill="none" stroke="#333" stroke-width="0.6"/>
<path d="M464.2,576.3 L469.4,573.3 L470.4,570.4 L472.3,569.4 L478.3,572.1 L478.8,574.8 L487.2,580.3 L487.5,582 L481.3,586.7 L474.8,583.2 L472.8,580.3 L469.9,580.3 L464.4,577 Z" fill="#fff" stroke="#111" stroke-width="1.2"/>
<path d="M470.5,571 L478,574 M472.5,573 L473,578 M476,574 L481,585 M473,578 L474.8,583" fill="none" stroke="#222" stroke-width="0.7"/>
<path d="M472,573 L473.5,573.5 L473.5,578 L472,577.5 Z" fill="#333"/>
<path d="M239.2,421 Q240,417.5 243,415.5 L247.5,412.5 Q250,411.8 252.5,413 L255,415 Q257,417.5 255.5,419.8 L249,424.5 Q246,426.3 243,425.5 L240.5,424 Q238.8,422.8 239.2,421 Z" fill="#fff" stroke="#111" stroke-width="1.5"/>
<path d="M241,421.5 L250,416 M243,423.5 L253,417.5 M244,418 L248,422.5 M247,416 L251,420.5 M250,414 L254,418.5" fill="none" stroke="#555" stroke-width="0.5"/>
<g fill="none" stroke="#333" stroke-width="0.7" stroke-dasharray="8 2 1.5 2">
<path d="M245.4,413.5 L245.4,397.1 L284.6,418.8"/>
<path d="M314,435.6 L325.2,441.2 L325.2,428.6"/>
<path d="M584.3,656.5 L584.3,644.1 L614,623.8 L614,611.9"/>
</g>
</g>
<g id="small" stroke-linejoin="round" stroke-linecap="round">
<!-- screw 14 -->
<path d="M361.2,240 L367.4,240 L367,244 L366.6,249 L366,254 L364.3,260 L362.6,254 L362,249 L361.6,244 Z" fill="#fff" stroke="#111" stroke-width="1.1"/>
<path d="M361.3,242 L367.3,244 M361.6,245 L367,247.5 M361.9,248.5 L366.7,251 M362.2,252 L366.2,254.5 M362.6,255.5 L365.6,257.5" fill="none" stroke="#111" stroke-width="1.1"/>
<path d="M356.3,236 Q356.3,232.2 363.9,232.2 Q371.6,232.2 371.6,236 Q371.6,239.8 363.9,239.8 Q356.3,239.8 356.3,236 Z" fill="#fff" stroke="#111" stroke-width="1.5"/>
<path d="M359,235 Q363.9,233 369,235 M361,234.5 L363,236 L366,236 L367,234.5" fill="none" stroke="#111" stroke-width="0.8"/>
<!-- clip 15 -->
<path d="M356.3,269.1 L361.5,265.1 L372.8,270.3 L372.8,272.5 L368,276.5 L355.9,272.3 Z" fill="#fff" stroke="#111" stroke-width="1.3"/>
<path d="M356.3,269.6 L368.3,274.7 L372.8,270.5 M356,271 L368,275.7 M368.3,274.7 L368,276.5" fill="none" stroke="#111" stroke-width="0.8"/>
<path d="M362.5,269.3 L364.5,268.4 L366,269.6 L364,270.6 Z" fill="#333"/>
<!-- dash-dot between -->
<path d="M364.3,278 L364.3,299.5" stroke="#222" stroke-width="0.9" stroke-dasharray="5 2 1 2" fill="none"/>
<!-- plate 8 -->
<path d="M337.8,309.5 Q339.5,304.5 343,303 Q347,301.2 351.4,300.4 Q357,299.6 362.5,299.4 Q366,299.6 369,300.7 L375.5,305 L385.2,310.8 Q388.6,313 387.8,314.7 Q387.5,317 385.9,318 Q383.5,319.4 380.7,319.9 L375.5,321.2 Q372,322.5 369,324.4 Q365.5,326.2 362.5,326 Q360,325.8 358,325.1 L349.5,319.9 L339.7,314 Q337.6,312.3 337.8,309.5 Z" fill="#F27E22" stroke="#111" stroke-width="1.6"/>
<path d="M351.4,302.3 L379.4,318.2 M341.7,305.9 L366.4,322.5" fill="none" stroke="#3a1a00" stroke-width="0.8"/>
<g fill="#3a1a00"><circle cx="344" cy="308.9" r="0.9"/><circle cx="364.4" cy="302.3" r="0.9"/><circle cx="381.3" cy="312.1" r="0.9"/><circle cx="363.1" cy="320.9" r="0.9"/></g>
<!-- clip 13 -->
<path d="M815,162.5 L819,159.5 L821.5,159.5 L832,165 L832.5,167 L828,170 L825,168.5 L824.5,167 L822.5,166 L822,168.5 L819,173 L818.75,176 L814,174 L813.5,169.5 L817,167 L817.5,165 Z" fill="#fff" stroke="#111" stroke-width="1.1"/>
<path d="M817,164.5 L822,163 M819,167 L818,171 M815,171 L818.5,172.5" fill="none" stroke="#555" stroke-width="0.5"/>
</g>
<g id="arrows"><path class="a" d="M809.3,177.1 L758.5,177.1"/><path d="M745.5,177.1 L760.5,173.1 L757.5,177.1 L760.5,181.1 Z" fill="#000"/><path class="a" d="M814.8,180.4 L836.7,221.5"/><path d="M842.3,232.1 L831.8,221.9 L837.1,222.4 L839.7,217.6 Z" fill="#000"/><path class="a" d="M379.9,332.5 L442.0,453.8"/><path d="M447.5,464.5 L437.1,454.1 L442.5,454.7 L445.1,450.0 Z" fill="#000"/><path class="a" d="M476.5,568.0 L473.3,460.5"/><path d="M473.0,449.5 L477.7,462.4 L473.3,459.5 L469.1,462.6 Z" fill="#000"/><path class="a" d="M480.0,567.0 L539.7,501.1"/><path d="M547.1,493.0 L541.6,505.5 L540.4,500.4 L535.2,499.7 Z" fill="#000"/></g>
<g id="labels">
<text x="365.5" y="32">14</text>
<text x="412" y="32">15</text>
<text x="457.3" y="32">8</text>
<text x="525" y="32">1</text>
<text x="591.5" y="32">5</text>
<text x="651.5" y="32">6</text>
<text x="783.5" y="32">7</text>
<text x="826" y="32">13</text>
<text x="87.5" y="797">9</text>
<text x="138.2" y="797">3</text>
<text x="304" y="797">2</text>
<text x="345.5" y="797">11</text>
<text x="380.5" y="797">12</text>
<text x="537.5" y="797">4</text>
<text x="583.5" y="797">10</text>
</g>
</svg>
</body></html>
